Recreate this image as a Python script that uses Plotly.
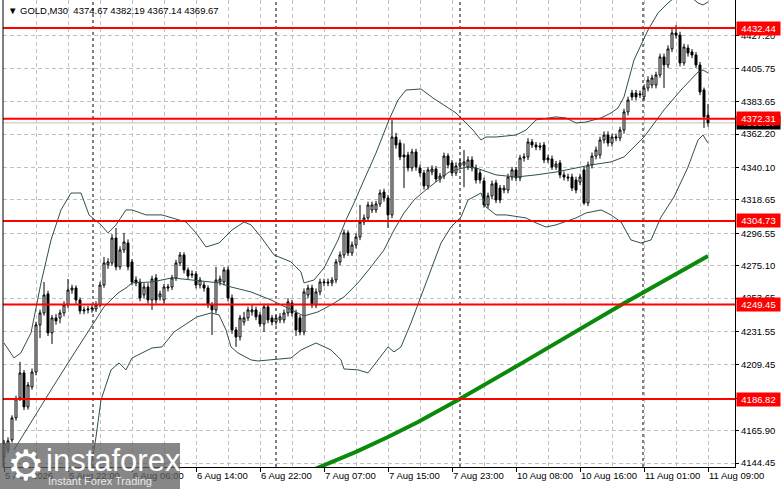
import plotly.graph_objects as go

# GOLD M30 bars, index 0 = first visible bar (5 Aug 2026)
opens = [4148.5, 4153.1, 4159.7, 4174.3, 4187.5, 4204.1, 4181.6, 4194.8, 4204.7, 4235.9,
         4243.8, 4256.4, 4230.6, 4240.5, 4240.5, 4243.8, 4249.1, 4259.0, 4260.3, 4252.4,
         4245.1, 4245.8, 4246.4, 4246.4, 4249.1, 4262.3, 4275.6, 4276.9, 4293.4, 4274.3,
         4285.5, 4290.1, 4277.6, 4265.6, 4264.3, 4255.7, 4261.0, 4252.4, 4267.0, 4254.4,
         4252.4, 4260.3, 4261.0, 4267.0, 4276.9, 4282.2, 4272.3, 4269.6, 4269.6, 4262.3,
         4262.3, 4260.3, 4249.1, 4245.8, 4264.3, 4264.3, 4272.3, 4253.7, 4232.5, 4227.9,
         4237.8, 4240.5, 4244.5, 4245.8, 4242.5, 4236.5, 4247.8, 4240.5, 4237.8, 4239.2,
         4239.2, 4243.8, 4250.4, 4243.8, 4240.5, 4231.2, 4255.7, 4260.3, 4249.1, 4257.7,
         4263.7, 4264.3, 4263.7, 4265.6, 4277.6, 4282.2, 4296.8, 4283.5, 4288.8, 4294.1,
         4304.0, 4306.7, 4312.0, 4312.0, 4316.0, 4323.9, 4319.9, 4308.7, 4360.3, 4356.3,
         4348.4, 4348.4, 4339.8, 4350.4, 4339.8, 4336.5, 4327.9, 4337.1, 4339.1, 4332.5,
         4334.5, 4347.7, 4343.1, 4336.5, 4341.1, 4341.8, 4340.4, 4345.1, 4339.8, 4336.5,
         4331.2, 4315.3, 4321.3, 4329.9, 4326.5, 4325.2, 4325.2, 4333.8, 4338.5, 4333.2,
         4346.4, 4347.1, 4357.0, 4355.0, 4354.4, 4355.0, 4346.4, 4345.7, 4340.4, 4343.1,
         4335.2, 4333.8, 4333.8, 4331.8, 4330.5, 4338.5, 4316.6, 4341.8, 4347.7, 4348.4,
         4358.3, 4361.6, 4356.3, 4359.6, 4359.6, 4364.9, 4376.9, 4389.4, 4389.4, 4388.1,
         4386.8, 4392.7, 4394.7, 4394.7, 4401.4, 4413.3, 4408.0, 4418.6, 4429.2, 4427.8,
         4409.3, 4419.2, 4416.6, 4414.6, 4408.0, 4391.4, 4374.67]
highs = [4159.7, 4161.5, 4176.0, 4189.0, 4211.4, 4206.0, 4198.0, 4207.0, 4238.0, 4246.0,
         4264.3, 4258.5, 4242.5, 4243.0, 4246.0, 4251.5, 4266.3, 4262.5, 4262.0, 4254.0,
         4248.0, 4248.5, 4249.0, 4251.5, 4264.5, 4280.9, 4280.0, 4296.0, 4300.1, 4288.0,
         4296.8, 4292.5, 4279.5, 4268.0, 4266.5, 4263.5, 4263.5, 4268.5, 4269.5, 4258.5,
         4263.0, 4263.0, 4269.0, 4279.0, 4284.2, 4284.0, 4274.0, 4272.0, 4271.5, 4267.5,
         4264.5, 4262.0, 4251.0, 4274.3, 4268.5, 4274.3, 4274.5, 4256.0, 4234.5, 4242.5,
         4244.5, 4248.0, 4249.0, 4248.0, 4244.5, 4250.0, 4250.0, 4242.5, 4242.5, 4243.5,
         4246.0, 4253.5, 4252.5, 4246.0, 4242.5, 4260.0, 4262.5, 4262.5, 4260.0, 4266.5,
         4266.5, 4266.5, 4267.5, 4279.5, 4284.5, 4299.0, 4298.5, 4291.0, 4296.5, 4315.3,
         4309.0, 4317.5, 4317.5, 4318.0, 4325.5, 4326.0, 4322.0, 4371.6, 4363.0, 4358.5,
         4356.0, 4350.5, 4352.5, 4352.5, 4342.0, 4338.5, 4340.5, 4341.5, 4341.0, 4336.5,
         4350.0, 4349.5, 4345.0, 4343.5, 4345.5, 4351.7, 4347.5, 4347.5, 4342.0, 4338.5,
         4333.5, 4323.5, 4331.5, 4332.0, 4328.5, 4328.5, 4336.0, 4340.5, 4340.5, 4348.5,
         4349.5, 4359.5, 4359.0, 4357.0, 4356.5, 4357.0, 4348.5, 4348.0, 4344.5, 4345.0,
         4337.5, 4336.0, 4336.0, 4334.0, 4336.0, 4340.5, 4344.0, 4350.0, 4354.0, 4360.5,
         4364.0, 4364.0, 4362.5, 4362.5, 4367.0, 4379.0, 4387.0, 4391.5, 4391.5, 4391.0,
         4395.0, 4400.5, 4401.5, 4403.5, 4415.5, 4415.5, 4421.0, 4433.1, 4434.5, 4430.0,
         4422.0, 4421.5, 4418.5, 4416.5, 4410.0, 4393.0, 4382.19]
lows = [4141.2, 4151.0, 4158.0, 4172.5, 4185.5, 4179.5, 4179.8, 4193.0, 4202.5, 4227.2,
        4242.0, 4228.5, 4223.3, 4236.0, 4237.0, 4241.5, 4247.0, 4256.5, 4250.0, 4243.0,
        4243.0, 4243.5, 4244.0, 4244.5, 4247.5, 4260.5, 4273.0, 4275.0, 4272.0, 4272.5,
        4283.5, 4272.0, 4262.0, 4261.5, 4251.5, 4253.5, 4250.0, 4245.8, 4250.0, 4252.0,
        4250.0, 4258.0, 4259.0, 4265.0, 4275.0, 4270.0, 4266.0, 4267.0, 4260.0, 4260.0,
        4258.0, 4247.0, 4229.2, 4243.5, 4262.0, 4262.0, 4251.5, 4230.0, 4221.3, 4225.5,
        4235.5, 4238.5, 4242.0, 4239.0, 4234.5, 4231.2, 4237.0, 4235.5, 4235.5, 4237.0,
        4237.0, 4241.5, 4241.5, 4228.6, 4229.0, 4229.0, 4253.5, 4247.0, 4247.0, 4255.5,
        4261.5, 4261.5, 4261.5, 4263.5, 4275.5, 4280.0, 4281.5, 4281.5, 4286.5, 4292.0,
        4302.0, 4304.5, 4310.0, 4310.0, 4314.0, 4317.5, 4300.1, 4306.5, 4352.5, 4345.0,
        4326.5, 4337.5, 4337.5, 4338.0, 4334.0, 4325.5, 4325.5, 4335.0, 4330.5, 4330.0,
        4332.5, 4339.5, 4334.5, 4334.5, 4339.0, 4327.0, 4338.5, 4337.5, 4329.5, 4329.5,
        4313.5, 4313.0, 4319.0, 4316.5, 4316.5, 4323.0, 4323.0, 4331.5, 4331.0, 4331.0,
        4344.0, 4345.0, 4353.0, 4351.5, 4351.5, 4343.0, 4343.0, 4338.5, 4338.5, 4333.0,
        4331.5, 4331.0, 4324.5, 4323.0, 4328.5, 4315.3, 4314.5, 4339.5, 4345.5, 4346.0,
        4356.0, 4354.0, 4354.0, 4357.5, 4357.5, 4362.5, 4374.5, 4384.5, 4384.5, 4386.0,
        4384.5, 4390.5, 4392.5, 4392.5, 4399.5, 4392.7, 4406.0, 4416.5, 4425.5, 4407.0,
        4407.5, 4413.5, 4412.5, 4406.0, 4388.0, 4366.3, 4367.14]
closes = [4157.7, 4159.1, 4174.3, 4186.9, 4204.1, 4181.6, 4196.1, 4204.7, 4235.9, 4243.8,
          4255.7, 4230.6, 4240.5, 4238.5, 4243.8, 4249.1, 4259.0, 4260.3, 4252.4, 4245.1,
          4245.8, 4246.4, 4247.1, 4249.1, 4262.3, 4276.9, 4277.6, 4293.4, 4274.3, 4285.5,
          4290.8, 4274.3, 4264.3, 4263.7, 4253.7, 4261.0, 4252.4, 4266.3, 4252.4, 4256.4,
          4261.0, 4261.0, 4267.0, 4276.9, 4282.2, 4272.3, 4268.3, 4269.0, 4262.3, 4265.6,
          4260.3, 4249.1, 4245.8, 4265.6, 4266.3, 4272.3, 4253.7, 4232.5, 4227.9, 4240.5,
          4240.5, 4245.8, 4245.8, 4241.2, 4236.5, 4247.8, 4239.2, 4237.8, 4240.5, 4241.2,
          4243.8, 4251.1, 4243.8, 4232.5, 4231.2, 4257.7, 4260.3, 4249.1, 4257.7, 4264.3,
          4264.3, 4263.7, 4265.6, 4277.6, 4282.2, 4296.8, 4283.5, 4288.8, 4294.1, 4304.0,
          4306.7, 4315.3, 4315.3, 4316.0, 4323.2, 4319.9, 4308.7, 4360.3, 4355.0, 4347.1,
          4347.1, 4339.8, 4350.4, 4340.4, 4336.5, 4327.9, 4338.5, 4339.1, 4332.5, 4334.5,
          4347.7, 4341.8, 4336.5, 4341.1, 4343.1, 4343.8, 4345.1, 4339.8, 4331.8, 4331.8,
          4315.3, 4321.3, 4329.2, 4318.6, 4318.6, 4326.5, 4333.8, 4338.5, 4333.2, 4346.4,
          4347.1, 4357.0, 4355.0, 4353.7, 4353.7, 4345.1, 4345.1, 4340.4, 4342.4, 4335.2,
          4333.8, 4333.2, 4326.5, 4325.2, 4333.8, 4316.6, 4341.8, 4347.7, 4351.7, 4358.3,
          4361.6, 4356.3, 4360.3, 4360.3, 4364.9, 4376.9, 4384.8, 4386.8, 4386.8, 4388.8,
          4392.7, 4398.0, 4399.4, 4401.4, 4413.3, 4408.0, 4418.6, 4429.2, 4427.8, 4409.3,
          4419.9, 4415.9, 4414.6, 4408.0, 4390.1, 4373.6, 4369.67]
bars = list(range(len(closes)))

# Bollinger band lines (bar index, price)
bb_up_x = [0, 2.5, 4.2, 6.75, 9.25, 11.75, 14.25, 16.75, 19.25, 21.25, 24.25, 26, 28, 30.5, 32, 35.5,
           39.5, 45.5, 48, 50.5, 53.75, 57, 60, 61.75, 64.25, 67.5, 71.75, 74.25, 75, 77.5, 80, 83.5,
           85.5, 87.5, 90, 93, 96.25, 98.5, 100.5, 104.25, 107.25, 113, 117.25, 119.25, 120.5, 123,
           128, 130.5, 133, 138, 140.5, 143, 145.5, 149.25, 151.75, 153.5, 155, 157.5, 161, 163.5,
           166, 169.25, 171.75, 173.5, 174.75, 176]
bb_up = [4223.9, 4214.0, 4217.3, 4230.6, 4263.7, 4292.1, 4312.0, 4323.2, 4323.2, 4308.7, 4302.1,
         4296.8, 4302.1, 4312.0, 4312.0, 4308.7, 4308.7, 4304.0, 4296.8, 4287.5, 4290.1, 4298.7,
         4304.0, 4302.1, 4294.1, 4282.2, 4277.6, 4270.9, 4263.7, 4265.6, 4273.6, 4292.1, 4305.4,
         4316.6, 4331.8, 4349.7, 4371.6, 4384.8, 4391.4, 4392.1, 4386.1, 4376.2, 4364.9, 4358.3,
         4360.3, 4360.3, 4361.6, 4364.9, 4371.6, 4373.6, 4372.9, 4369.6, 4370.2, 4372.9, 4376.2,
         4379.5, 4386.8, 4411.3, 4431.1, 4442.4, 4449.0, 4456.3, 4453.0, 4449.0, 4447.7, 4449.7]
bb_mid_x = [2.5, 7.5, 11.75, 16, 19.25, 21.75, 25, 28.5, 30.5, 32, 37, 42, 47, 50.5, 53.75, 56.75,
            61.75, 66.75, 71.75, 75, 78.5, 81.75, 85, 88.5, 91.75, 95, 97.5, 100, 102.5, 106,
            111.25, 115.5, 118, 123, 128, 133, 138, 143, 146.75, 151.75, 155, 160, 165, 169.25,
            173.5, 174.75, 176]
bb_mid = [4153.1, 4175.0, 4192.8, 4210.7, 4223.9, 4234.5, 4247.8, 4257.0, 4260.3, 4263.7, 4264.3,
          4267.0, 4265.6, 4264.3, 4263.7, 4261.0, 4257.7, 4252.4, 4245.8, 4241.8, 4244.5, 4249.1,
          4254.4, 4263.7, 4274.3, 4285.5, 4298.7, 4310.0, 4318.6, 4326.5, 4337.1, 4340.4, 4339.8,
          4335.2, 4333.8, 4335.2, 4337.1, 4339.8, 4341.8, 4343.8, 4347.1, 4360.3, 4378.2, 4391.4,
          4403.3, 4404.7, 4402.7]
bb_low_x = [20.75, 21.75, 23, 24.25, 26.75, 28.75, 30.5, 32, 37, 39.5, 42.5, 48.25, 51.75, 53.75,
            55.5, 56.75, 58.5, 61.75, 63.5, 71.75, 74.25, 78, 81.75, 84.25, 85, 88.5, 91, 93.5, 96,
            97.5, 99.25, 101.75, 104.25, 106.75, 109.25, 111.75, 114.25, 116, 119.25, 120.5, 123,
            125.5, 130.5, 133, 135.5, 138, 143, 145.5, 149.25, 151.75, 154.25, 156.75, 159.25,
            161.75, 164.25, 167.5, 171, 173.5, 174.75, 176]
bb_low = [4133.2, 4141.8, 4161.7, 4186.2, 4206.1, 4210.7, 4206.1, 4214.0, 4220.6, 4221.3, 4231.2,
          4241.2, 4243.8, 4242.5, 4232.5, 4221.3, 4217.3, 4212.7, 4212.0, 4214.0, 4219.3, 4223.9,
          4219.3, 4212.7, 4206.7, 4206.1, 4204.1, 4212.7, 4221.3, 4218.0, 4221.3, 4237.2, 4254.4,
          4272.3, 4290.1, 4300.7, 4307.3, 4318.6, 4323.2, 4314.0, 4308.7, 4308.7, 4306.7, 4303.4,
          4300.7, 4302.1, 4306.7, 4310.0, 4312.0, 4308.7, 4304.0, 4292.1, 4290.1, 4292.1, 4307.3,
          4320.6, 4340.4, 4358.3, 4361.6, 4356.3]

# slow moving average (green)
ma_x = [70, 77.25, 88, 96, 103.5, 113.5, 119.25, 130, 154.25, 176]
ma = [4131.9, 4139.9, 4151.8, 4161.7, 4171.6, 4186.2, 4194.8, 4211.4, 4249.1, 4281.5]

levels = [4432.44, 4372.31, 4304.73, 4249.45, 4186.82]
last_price = 4369.67
day_breaks = [22.25, 68, 114, 159.75]

x_tick_pos = [0, 16, 32, 48, 64, 80, 96, 112, 128, 144, 160, 176]
x_tick_text = ["5 Aug 2026", "5 Aug 22:00", "6 Aug 06:00", "6 Aug 14:00", "6 Aug 22:00",
               "7 Aug 07:00", "7 Aug 15:00", "7 Aug 23:00", "10 Aug 08:00", "10 Aug 16:00",
               "11 Aug 01:00", "11 Aug 09:00"]
y_ticks = [4427.20, 4405.75, 4383.65, 4362.20, 4340.10, 4318.65, 4296.55, 4275.10, 4253.65,
           4231.55, 4209.45, 4187.35, 4165.90, 4144.45]

FONT = "Liberation Sans"
W, H = 781, 489
ML, MR, MT, MB = 3, 46, 0, 22
PW, PH = W - ML - MR, H - MT - MB


def px_x(p):
    return (p - ML) / PW


def px_y(p):
    return (H - MB - p) / PH


band_col = "#2f4f4f"
fig = go.Figure()
fig.add_trace(go.Scatter(x=ma_x, y=ma, mode="lines", line=dict(color="#0a8a0a", width=4),
                         hoverinfo="skip"))
for bx, by in [(bb_up_x, bb_up), (bb_mid_x, bb_mid), (bb_low_x, bb_low)]:
    fig.add_trace(go.Scatter(x=bx, y=by, mode="lines", line=dict(color=band_col, width=1),
                             hoverinfo="skip"))
fig.add_trace(go.Candlestick(
    x=bars, open=opens, high=highs, low=lows, close=closes,
    increasing=dict(line=dict(color="black", width=1), fillcolor="white"),
    decreasing=dict(line=dict(color="black", width=1), fillcolor="black"),
    whiskerwidth=0, hoverinfo="skip"))

shapes = []
for d in day_breaks:
    shapes.append(dict(type="line", xref="x", yref="paper", x0=d, x1=d, y0=0, y1=1,
                       line=dict(color="black", width=1, dash="3px,3px"), layer="between"))
shapes.append(dict(type="line", xref="paper", yref="y", x0=0, x1=1, y0=last_price, y1=last_price,
                   line=dict(color="#c0c0c0", width=1), layer="between"))
for lv in levels:
    shapes.append(dict(type="line", xref="paper", yref="y", x0=0, x1=1, y0=lv, y1=lv,
                       line=dict(color="#ff0000", width=2), layer="above"))
shapes.append(dict(type="line", xref="paper", yref="paper", x0=0, x1=0, y0=0, y1=1,
                   line=dict(color="black", width=1)))
# watermark panel
shapes.append(dict(type="rect", xref="paper", yref="paper", x0=px_x(0), x1=px_x(180),
                   y0=px_y(489), y1=px_y(443), fillcolor="rgba(95,95,95,0.75)",
                   line=dict(width=0), layer="above"))

ann = []
ann.append(dict(x=1, xref="paper", y=last_price, yref="y", text="%.2f" % last_price,
                xanchor="left", xshift=1, showarrow=False, bgcolor="black", width=41,
                font=dict(color="white", size=9.5, family=FONT), borderpad=1))
for lv in levels:
    ann.append(dict(x=1, xref="paper", y=lv, yref="y", text="%.2f" % lv, xanchor="left",
                    xshift=1, showarrow=False, bgcolor="#ff0000", width=41,
                    font=dict(color="white", size=9.5, family=FONT), borderpad=1))
ann.append(dict(x=px_x(6), xref="paper", y=px_y(10), yref="paper", xanchor="left",
                yanchor="middle", showarrow=False,
                text="\u25bc GOLD,M30  %.2f %.2f %.2f %.2f" % (
                    opens[-1], highs[-1], lows[-1], closes[-1]),
                font=dict(color="black", size=9.5, family=FONT)))
ann.append(dict(x=px_x(5), xref="paper", y=px_y(465), yref="paper", showarrow=False,
                xanchor="left", yanchor="middle", text="\u2699",
                font=dict(color="white", size=42, family="DejaVu Sans")))
ann.append(dict(x=px_x(44), xref="paper", y=px_y(460), yref="paper", xanchor="left",
                yanchor="middle", showarrow=False, text="instaforex",
                font=dict(color="white", size=31, family=FONT)))
ann.append(dict(x=px_x(46), xref="paper", y=px_y(481), yref="paper", xanchor="left",
                yanchor="middle", showarrow=False, text="Instant Forex Trading",
                font=dict(color="#e8e8e8", size=11, family=FONT)))

grid = dict(gridcolor="#c0c0c0", griddash="4px,3px", gridwidth=1)
fig.update_layout(
    width=W, height=H, margin=dict(l=ML, r=MR, t=MT, b=MB, autoexpand=False),
    plot_bgcolor="white", paper_bgcolor="white", showlegend=False,
    shapes=shapes, annotations=ann,
    xaxis=dict(range=[-0.25, 182.75], rangeslider=dict(visible=False), showgrid=True,
               automargin=False, tickangle=0,
               tickvals=x_tick_pos, ticktext=x_tick_text, ticks="outside", ticklen=4,
               tickcolor="black", ticklabelposition="outside right",
               tickfont=dict(size=9.5, color="black", family=FONT),
               showline=True, linecolor="black", linewidth=1, zeroline=False,
               minor=dict(tickvals=[p + 8 for p in x_tick_pos], showgrid=True, ticks="", **grid),
               **grid),
    yaxis=dict(range=[4141.8, 4451.0], side="right", tickvals=y_ticks, automargin=False,
               ticktext=["%.2f" % v for v in y_ticks], ticks="outside", ticklen=3,
               tickcolor="black", tickfont=dict(size=9.5, color="black", family=FONT),
               showline=True, linecolor="black", linewidth=1, zeroline=False,
               showgrid=True, **grid),
)

fig.write_html("out.html", config={"displayModeBar": False},
               post_script="document.body.style.margin='0';document.body.style.overflow='hidden';")
